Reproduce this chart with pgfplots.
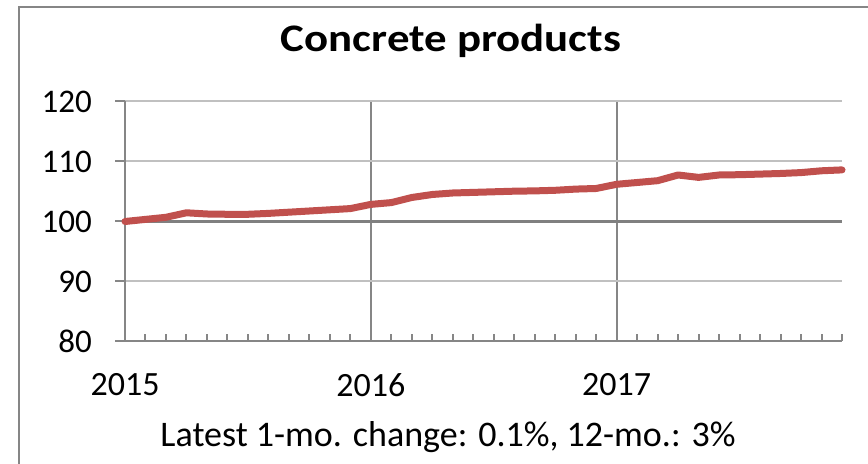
\documentclass[border=0pt]{standalone}
\usepackage{fontspec}
\setmainfont{Carlito}
\newfontfamily\titlefont{Carlito}[FakeStretch=1.15]
\usepackage{pgfplots}
\pgfplotsset{compat=1.18}
\definecolor{linered}{HTML}{C0504D}
\definecolor{axgray}{HTML}{868686}
\definecolor{gridgray}{HTML}{C0C0C0}
\definecolor{basegray}{HTML}{808080}
\begin{document}
\begin{tikzpicture}[x=1bp,y=1bp]
\useasboundingbox (0,0) rectangle (868,464);
\clip (0,0) rectangle (868,464);
\draw[axgray, line width=1.5bp] (19,457) rectangle (900,-30);
\node[font=\fontsize{39bp}{44bp}\titlefont\bfseries, anchor=base] at (451,412) {Concrete products};
\node[font=\fontsize{36bp}{42bp}\selectfont, anchor=base] at (448,17) {Latest 1-mo. change: 0.1\%, 12-mo.: 3\%};
\begin{axis}[
  at={(125bp,122.5bp)}, anchor=south west,
  scale only axis, width=717bp, height=240bp,
  xmin=0, xmax=35, ymin=80, ymax=120,
  separate axis lines,
  axis x line*=bottom, axis y line*=left,
  axis line style={axgray, line width=2bp},
  xtick={0,12,24}, xticklabels={2015,2016,2017},
  minor xtick={1,2,...,35},
  ytick={80,90,100,110,120},
  xtick align=inside, ytick align=outside,
  major tick length=10bp, minor tick length=7bp,
  tick style={axgray, line width=2bp},
  xmajorgrids, ymajorgrids,
  major x grid style={axgray, line width=2bp},
  major y grid style={gridgray, line width=2bp},
  /pgf/number format/assume math mode=true,
  yticklabel style={font=\fontsize{33bp}{40bp}\selectfont, inner sep=0pt, xshift=-23bp},
  xticklabel style={font=\fontsize{34bp}{40bp}\selectfont, inner sep=0pt, yshift=-32bp},
  clip=false,
]
\addplot[basegray, line width=3.5bp] coordinates {(0,100) (35,100)};
\addplot[linered, line width=7bp, line join=round, line cap=round] coordinates {
(0,100.0) (1,100.35) (2,100.7) (3,101.45) (4,101.25) (5,101.2) (6,101.2)
(7,101.35) (8,101.55) (9,101.75) (10,101.95) (11,102.15) (12,102.85)
(13,103.15) (14,104.0) (15,104.5) (16,104.75) (17,104.85) (18,104.95)
(19,105.05) (20,105.1) (21,105.2) (22,105.4) (23,105.5) (24,106.2)
(25,106.5) (26,106.8) (27,107.75) (28,107.35) (29,107.75) (30,107.8)
(31,107.9) (32,108.0) (33,108.15) (34,108.45) (35,108.6)};
\end{axis}
\end{tikzpicture}
\end{document}
